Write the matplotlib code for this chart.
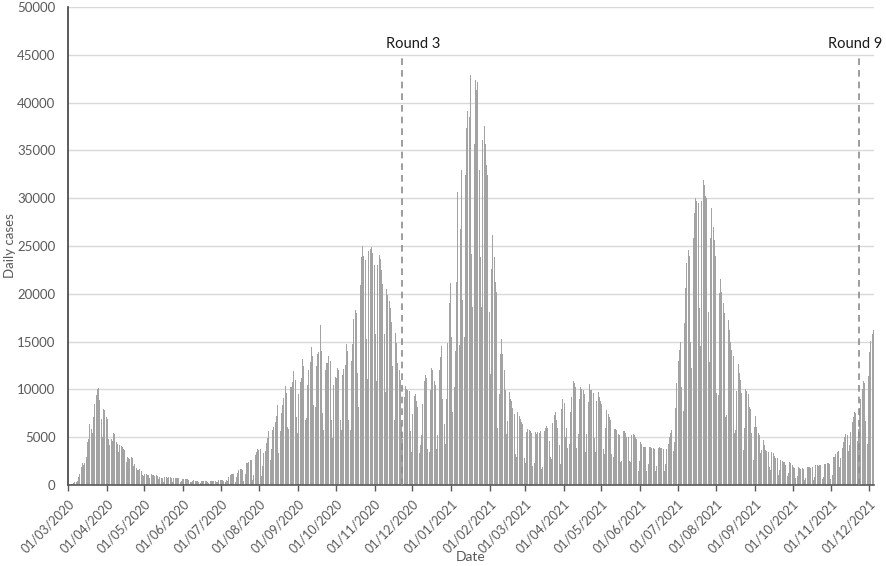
import matplotlib
matplotlib.use('Agg')
import matplotlib.pyplot as plt
import numpy as np
import pandas as pd

plt.rcParams['font.family'] = ['Lato', 'DejaVu Sans']

start_date = '2020-03-01'

# Daily cases, one row per week (Sun..Sat)
first_wave_2020 = [
    [40, 60, 100, 150, 250, 300, 350],
    [450, 870, 1200, 1900, 2250, 2100, 2250],
    [2950, 4500, 4860, 6400, 5900, 5400, 7100],
    [8500, 9400, 10060, 10100, 8850, 6900, 5000],
    [8000, 7800, 7100, 6900, 4860, 4200, 4860],
    [4600, 5400, 5300, 4500, 4300, 3500, 4200],
    [4100, 4000, 3800, 3700, 2400, 2950, 2800],
    [2700, 2900, 2800, 2000, 2200, 1800, 1600],
    [1560, 1700, 1500, 1000, 900, 1100, 1100],
]
summer_2020 = [
    [1040, 1000, 700, 1100, 1050, 1000, 950],
    [1000, 900, 600, 800, 750, 700, 350],
    [800, 800, 780, 800, 820, 760, 350],
    [700, 720, 700, 680, 700, 350, 400],
    [600, 620, 600, 600, 580, 560, 300],
    [350, 450, 480, 450, 440, 420, 300],
    [250, 450, 460, 450, 440, 430, 300],
    [260, 450, 460, 450, 440, 420, 300],
    [280, 500, 520, 500, 480, 450, 300],
    [500, 400, 860, 1000, 1100, 1200, 1150],
    [350, 860, 1300, 1550, 1650, 1700, 1550],
    [400, 1200, 2300, 2300, 2450, 2600, 2650],
    [500, 1000, 3100, 3450, 3800, 3700, 3800],
]
autumn_2020 = [
    [900, 2000, 3300, 3600, 4400, 4900, 5700],
    [2600, 3800, 5800, 6100, 6600, 7200, 8400],
    [3300, 5700, 7500, 8400, 9100, 10400, 9600],
    [6100, 5900, 10300, 10300, 10800, 11900, 11000],
    [7100, 5400, 9500, 10800, 11200, 13200, 12500],
    [6800, 7000, 10500, 12000, 12900, 14400, 13500],
    [8400, 8200, 12500, 13700, 13900, 16700, 14000],
    [7500, 5800, 12000, 12800, 12800, 13500, 13000],
    [6800, 4900, 10500, 11300, 11200, 12200, 12000],
    [6800, 5800, 11500, 12100, 12600, 14800, 14000],
    [6800, 5800, 13000, 14700, 17400, 18300, 18000],
    [11700, 8200, 20900, 23900, 25000, 24000, 23500],
    [15300, 11100, 24500, 24700, 24900, 24300, 23000],
    [15800, 10900, 23000, 24100, 23600, 22500, 21000],
    [15800, 9700, 20500, 19900, 19200, 18500, 17000],
    [12500, 6800, 15900, 14900, 12800, 12000, 11000],
    [6500, 4800, 9200, 10400, 10000, 9900, 9800],
    [5600, 3400, 7400, 9300, 9500, 8800, 8200],
    [3300, 4200, 5200, 8500, 10900, 11500, 11200],
    [3800, 3500, 9900, 12200, 12000, 10900, 10500],
    [3800, 5200, 12000, 13400, 14500, 9000, 6400],
]
winter_2021 = [
    [4300, 9000, 14900, 19000, 21100, 15500, 7600],
    [10200, 14000, 21200, 30700, 14600, 26800, 32900],
    [19300, 15500, 32400, 37300, 39100, 38500, 42900],
    [24200, 18600, 35700, 42400, 41300, 42200, 33000],
    [23900, 18600, 36100, 37500, 35700, 33500, 32400],
    [18100, 11600, 22600, 26100, 23900, 21200, 20200],
    [6000, 9500, 13700, 15300, 13700, 12000, 9900],
    [5300, 6700, 9700, 9000, 8800, 8100, 7400],
    [3200, 2900, 7600, 7200, 6900, 6600, 6400],
]
spring_2021 = [
    [2800, 2300, 5500, 5900, 5800, 5700, 5400],
    [2000, 2300, 5500, 5300, 5500, 5400, 5700],
    [1700, 1850, 5700, 6000, 6200, 6000, 4600],
    [2900, 2700, 6500, 7300, 7600, 6800, 6000],
    [4200, 2200, 8000, 9000, 8600, 5000, 6000],
    [3900, 4300, 7600, 9200, 10900, 10700, 10300],
    [3900, 5300, 9000, 10300, 10000, 9900, 9500],
    [3400, 5300, 8700, 10600, 9900, 9900, 9600],
    [4900, 3500, 8800, 9700, 9200, 8800, 8500],
    [3800, 3200, 6000, 7800, 7400, 7100, 6800],
    [3200, 2900, 5900, 5900, 5800, 5300, 5200],
    [2400, 2500, 5700, 5700, 5400, 5000, 5000],
    [2500, 2400, 5200, 5300, 5200, 5000, 4800],
    [1500, 2500, 4500, 4300, 4000, 4000, 4000],
    [1500, 2200, 4000, 4000, 3900, 3900, 3800],
    [1500, 2000, 3900, 4000, 3900, 3900, 3800],
    [1500, 2200, 3800, 4300, 5000, 5400, 5800],
]
summer_2021 = [
    [3600, 4500, 8100, 10700, 13000, 14100, 15000],
    [10300, 7700, 16900, 20600, 23200, 24600, 24000],
    [15000, 12200, 25800, 28400, 30000, 29700, 29500],
    [18500, 14500, 29700, 31900, 31400, 30200, 30000],
    [18100, 12900, 25800, 29000, 27000, 25600, 24000],
    [9600, 9400, 20100, 21600, 20200, 19000, 18000],
    [7150, 7300, 17300, 16200, 15000, 14100, 13500],
    [5400, 5800, 9800, 12700, 11700, 11000, 9600],
    [3700, 6000, 10000, 9800, 9500, 8200, 8000],
]
autumn_2021 = [
    [5400, 2600, 6100, 7200, 6100, 5400, 5200],
    [3300, 3700, 4700, 4200, 3700, 3600, 3500],
    [1900, 1600, 3500, 3300, 3000, 2800, 2800],
    [1050, 1600, 2600, 2500, 2400, 2400, 2100],
    [900, 1300, 2400, 2300, 2100, 1900, 1750],
    [700, 900, 1900, 1750, 1700, 1750, 1700],
    [500, 700, 1900, 1900, 1900, 1750, 1900],
    [500, 800, 2100, 2100, 2000, 2100, 2100],
    [600, 800, 2200, 2200, 2300, 2300, 2200],
    [630, 1000, 2900, 2950, 3200, 3400, 3600],
    [1850, 2800, 3900, 4500, 5000, 5300, 5200],
    [3600, 4200, 5500, 6600, 7100, 7600, 7500],
    [4600, 5900, 8100, 9000, 10000, 10900, 10700],
    [6700, 4300, 11400, 13900, 15100, 15800, 16200],
]

round_labels = ['Round 3', 'Round 9']
round_dates = ['2020-11-23', '2021-11-23']
round_label_dates = ['2020-12-02', '2021-11-20']

weeks = (first_wave_2020 + summer_2020 + autumn_2020 + winter_2021 +
         spring_2021 + summer_2021 + autumn_2021)
cases = [v for wk in weeks for v in wk]
dates = pd.date_range(start_date, periods=len(cases), freq='D')
x = np.arange(len(cases))

fig = plt.figure(figsize=(8.86, 5.66), dpi=100)
ax = fig.add_axes([68 / 886, 1 - 485 / 566, (874 - 68) / 886, (485 - 7) / 566])

ax.bar(x, cases, width=0.8, color='#a3a3a3', linewidth=0, zorder=2)

ax.set_xlim(-0.5, len(cases) - 0.5)
ax.set_ylim(0, 50000)
ax.set_yticks(range(0, 50001, 5000))
ax.yaxis.grid(True, color='#d9d9d9', linewidth=1.0, zorder=0)
ax.set_axisbelow(True)

month_starts = pd.date_range('2020-03-01', '2021-12-01', freq='MS')
tick_pos = [(d - dates[0]).days - 0.5 for d in month_starts]
ax.set_xticks(tick_pos)
ax.set_xticklabels([d.strftime('%d/%m/%Y') for d in month_starts],
                   rotation=45, ha='right', va='top', rotation_mode='anchor')

for s in ['top', 'right']:
    ax.spines[s].set_visible(False)
ax.spines['left'].set_color('#404040')
ax.spines['bottom'].set_color('#595959')
ax.spines['left'].set_linewidth(1.2)
ax.spines['bottom'].set_linewidth(1.2)

ax.tick_params(axis='y', length=0, pad=9, labelsize=9.5, labelcolor='#595959')
ax.tick_params(axis='x', length=4, width=1, color='#595959', direction='out',
               pad=5, labelsize=9, labelcolor='#595959')

for lab, rd, ld in zip(round_labels, round_dates, round_label_dates):
    pos = (pd.Timestamp(rd) - dates[0]).days - 0.5
    lpos = (pd.Timestamp(ld) - dates[0]).days - 0.5
    ax.vlines(pos, 0, 45000, colors='#8c8c8c', linestyles=(0, (4, 3)), linewidth=1.2, zorder=3)
    ax.text(lpos, 45400, lab, ha='center', va='bottom', fontsize=10.5,
            color='#1a1a1a', clip_on=False)

fig.text(10 / 886, 1 - 246 / 566, 'Daily cases', rotation=90, ha='center', va='center',
         fontsize=9.5, color='#595959')
fig.text(471 / 886, 1 - 557 / 566, 'Date', ha='center', va='center',
         fontsize=10, color='#595959')

fig.savefig('out.png', dpi=100)
